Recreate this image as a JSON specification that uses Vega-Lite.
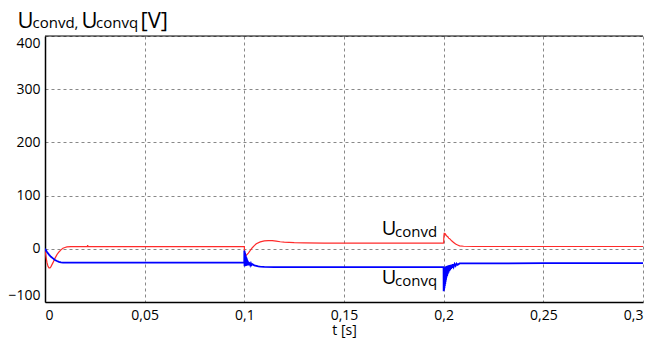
{
  "$schema": "https://vega.github.io/schema/vega-lite/v6.json",
  "width": 598,
  "height": 266,
  "autosize": {"type": "none"},
  "padding": {"left": 45, "top": 36, "right": 11, "bottom": 36},
  "config": {"view": {"stroke": null}, "font": "Open Sans", "background": "white"},
  "datasets": {
    "lines": [
      {"s":"d","t":0,"v":-3},{"s":"d","t":0.0005,"v":-15},{"s":"d","t":0.001,"v":-26},{"s":"d","t":0.0015,"v":-33},{"s":"d","t":0.002,"v":-36},{"s":"d","t":0.0025,"v":-36},{"s":"d","t":0.003,"v":-33.5},{"s":"d","t":0.004,"v":-26},{"s":"d","t":0.005,"v":-18},{"s":"d","t":0.006,"v":-11},{"s":"d","t":0.007,"v":-6},{"s":"d","t":0.008,"v":-2},{"s":"d","t":0.009,"v":1},{"s":"d","t":0.01,"v":2.5},{"s":"d","t":0.011,"v":3.5},{"s":"d","t":0.013,"v":4},{"s":"d","t":0.0212,"v":4},{"s":"d","t":0.0214,"v":7},{"s":"d","t":0.0216,"v":4},{"s":"d","t":0.05,"v":4},{"s":"d","t":0.0999,"v":4},{"s":"d","t":0.1,"v":4},{"s":"d","t":0.1001,"v":-6},{"s":"d","t":0.1003,"v":-13},{"s":"d","t":0.101,"v":-12},{"s":"d","t":0.102,"v":-8},{"s":"d","t":0.103,"v":-3},{"s":"d","t":0.104,"v":2},{"s":"d","t":0.105,"v":6},{"s":"d","t":0.106,"v":9.5},{"s":"d","t":0.108,"v":13},{"s":"d","t":0.11,"v":15},{"s":"d","t":0.112,"v":15.5},{"s":"d","t":0.114,"v":15.2},{"s":"d","t":0.116,"v":14.3},{"s":"d","t":0.118,"v":13.3},{"s":"d","t":0.12,"v":12.5},{"s":"d","t":0.125,"v":11.5},{"s":"d","t":0.13,"v":11},{"s":"d","t":0.14,"v":10.7},{"s":"d","t":0.16,"v":10.7},{"s":"d","t":0.1999,"v":10.7},{"s":"d","t":0.2,"v":11},{"s":"d","t":0.2001,"v":24},{"s":"d","t":0.2003,"v":30},{"s":"d","t":0.2005,"v":26},{"s":"d","t":0.2007,"v":29},{"s":"d","t":0.2009,"v":25},{"s":"d","t":0.201,"v":27},{"s":"d","t":0.2015,"v":24},{"s":"d","t":0.202,"v":23},{"s":"d","t":0.2025,"v":20},{"s":"d","t":0.203,"v":19},{"s":"d","t":0.204,"v":15},{"s":"d","t":0.205,"v":12},{"s":"d","t":0.206,"v":9},{"s":"d","t":0.207,"v":7},{"s":"d","t":0.208,"v":5.5},{"s":"d","t":0.21,"v":4.8},{"s":"d","t":0.215,"v":4.3},{"s":"d","t":0.3,"v":4.3},
      {"s":"q","t":0,"v":0},{"s":"q","t":0.001,"v":-6},{"s":"q","t":0.002,"v":-11},{"s":"q","t":0.003,"v":-15},{"s":"q","t":0.004,"v":-18},{"s":"q","t":0.005,"v":-21},{"s":"q","t":0.006,"v":-23},{"s":"q","t":0.007,"v":-24.5},{"s":"q","t":0.008,"v":-25.5},{"s":"q","t":0.009,"v":-26},{"s":"q","t":0.03,"v":-26},{"s":"q","t":0.06,"v":-26},{"s":"q","t":0.09995,"v":-26},
      {"s":"q","t":0.1,"v":-3},{"s":"q","t":0.1001,"v":-33},{"s":"q","t":0.1002,"v":-5},{"s":"q","t":0.1003,"v":-33},{"s":"q","t":0.1004,"v":-8},{"s":"q","t":0.1005,"v":-32.5},{"s":"q","t":0.1006,"v":-11},{"s":"q","t":0.1007,"v":-32.5},{"s":"q","t":0.1008,"v":-14},{"s":"q","t":0.1009,"v":-32},{"s":"q","t":0.101,"v":-16},{"s":"q","t":0.1011,"v":-32},{"s":"q","t":0.1012,"v":-18},{"s":"q","t":0.1013,"v":-31.5},{"s":"q","t":0.1014,"v":-20},{"s":"q","t":0.1015,"v":-31.5},{"s":"q","t":0.10165,"v":-22},{"s":"q","t":0.1018,"v":-31},{"s":"q","t":0.10195,"v":-24},{"s":"q","t":0.1021,"v":-31},{"s":"q","t":0.1023,"v":-25},{"s":"q","t":0.1025,"v":-31},{"s":"q","t":0.1027,"v":-26},{"s":"q","t":0.103,"v":-30.5},{"s":"q","t":0.1033,"v":-27.5},{"s":"q","t":0.1036,"v":-30.5},{"s":"q","t":0.104,"v":-29},{"s":"q","t":0.105,"v":-31},{"s":"q","t":0.106,"v":-32},{"s":"q","t":0.107,"v":-33},{"s":"q","t":0.108,"v":-33.5},{"s":"q","t":0.11,"v":-34},{"s":"q","t":0.115,"v":-34.5},{"s":"q","t":0.15,"v":-34.5},{"s":"q","t":0.19995,"v":-34.5},
      {"s":"q","t":0.2,"v":-80},{"s":"q","t":0.2001,"v":-38},{"s":"q","t":0.2002,"v":-78},{"s":"q","t":0.2003,"v":-37},{"s":"q","t":0.2004,"v":-74},{"s":"q","t":0.2005,"v":-36},{"s":"q","t":0.2006,"v":-70},{"s":"q","t":0.2007,"v":-35},{"s":"q","t":0.2008,"v":-66},{"s":"q","t":0.2009,"v":-34},{"s":"q","t":0.201,"v":-62},{"s":"q","t":0.2011,"v":-33.5},{"s":"q","t":0.2012,"v":-58},{"s":"q","t":0.2013,"v":-33},{"s":"q","t":0.20145,"v":-54},{"s":"q","t":0.2016,"v":-32.5},{"s":"q","t":0.20175,"v":-51},{"s":"q","t":0.2019,"v":-32},{"s":"q","t":0.20205,"v":-48},{"s":"q","t":0.2022,"v":-31.5},{"s":"q","t":0.2024,"v":-45},{"s":"q","t":0.2026,"v":-31},{"s":"q","t":0.2028,"v":-42},{"s":"q","t":0.203,"v":-30.5},{"s":"q","t":0.20325,"v":-40},{"s":"q","t":0.2035,"v":-30},{"s":"q","t":0.20375,"v":-38},{"s":"q","t":0.204,"v":-29.5},{"s":"q","t":0.2043,"v":-36},{"s":"q","t":0.2046,"v":-29},{"s":"q","t":0.205,"v":-34},{"s":"q","t":0.2055,"v":-28.5},{"s":"q","t":0.206,"v":-32},{"s":"q","t":0.2065,"v":-28},{"s":"q","t":0.207,"v":-30},{"s":"q","t":0.208,"v":-27.5},{"s":"q","t":0.21,"v":-27.5},{"s":"q","t":0.25,"v":-27},{"s":"q","t":0.3,"v":-27}
    ],
    "big": [
      {"t":-0.0138,"v":414.1,"txt":"U"},
      {"t":0.01831,"v":414.1,"txt":"U"},
      {"t":0.04791,"v":414.1,"txt":"[V]"}
    ],
    "small": [
      {"t":-0.00627,"v":414.1,"txt":"convd,"},
      {"t":0.02559,"v":414.1,"txt":"convq"}
    ],
    "lblbig": [
      {"t":0.16891,"v":25.9,"txt":"U"},
      {"t":0.16891,"v":-66.2,"txt":"U"}
    ],
    "lblsmall": [
      {"t":0.17558,"v":22.7,"txt":"convd"},
      {"t":0.17558,"v":-69.0,"txt":"convq"}
    ],
    "top": [{"v":400}]
  },
  "layer": [
    {
      "data": {"name": "lines"},
      "mark": {"type": "line", "clip": true},
      "encoding": {
        "x": {
          "field": "t", "type": "quantitative",
          "scale": {"domain": [0, 0.3], "nice": false, "zero": false},
          "axis": {
            "values": [0, 0.05, 0.1, 0.15, 0.2, 0.25, 0.3],
            "labelExpr": "replace(format(datum.value, '~g'), '.', ',')",
            "labelFlush": true,
            "labelFont": "Open Sans", "labelFontSize": 14, "labelColor": "black", "labelPadding": 6,
            "ticks": false,
            "domainColor": "black", "domainWidth": 1.5,
            "grid": true, "gridDash": [3, 3], "gridColor": "#888", "gridWidth": 1,
            "title": "t [s]", "titleFont": "Open Sans", "titleFontSize": 14, "titleFontWeight": "normal", "titleColor": "black", "titlePadding": 1
          }
        },
        "y": {
          "field": "v", "type": "quantitative",
          "scale": {"domain": [-100, 400], "nice": false, "zero": false},
          "axis": {
            "values": [-100, 0, 100, 200, 300, 400],
            "labelFlush": true,
            "labelFont": "Open Sans", "labelFontSize": 14, "labelColor": "black", "labelPadding": 5,
            "ticks": false,
            "domainColor": "black", "domainWidth": 1.5,
            "grid": true, "gridDash": [3, 3], "gridColor": "#888", "gridWidth": 1,
            "title": null
          }
        },
        "color": {"field": "s", "type": "nominal", "scale": {"domain": ["d", "q"], "range": ["#ff2a2a", "#0000ff"]}, "legend": null},
        "strokeWidth": {"field": "s", "type": "nominal", "scale": {"domain": ["d", "q"], "range": [1.2, 1.8]}, "legend": null}
      }
    },
    {
      "data": {"name": "top"},
      "mark": {"type": "rule", "color": "black", "strokeWidth": 1},
      "encoding": {"y": {"field": "v", "type": "quantitative"}}
    },
    {
      "data": {"name": "big"},
      "mark": {"type": "text", "align": "left", "baseline": "alphabetic", "fontSize": 22, "font": "Open Sans", "color": "black"},
      "encoding": {"x": {"field": "t", "type": "quantitative"}, "y": {"field": "v", "type": "quantitative"}, "text": {"field": "txt"}}
    },
    {
      "data": {"name": "small"},
      "mark": {"type": "text", "align": "left", "baseline": "alphabetic", "fontSize": 15, "font": "Open Sans", "color": "black"},
      "encoding": {"x": {"field": "t", "type": "quantitative"}, "y": {"field": "v", "type": "quantitative"}, "text": {"field": "txt"}}
    },
    {
      "data": {"name": "lblbig"},
      "mark": {"type": "text", "align": "left", "baseline": "alphabetic", "fontSize": 20, "font": "Open Sans", "color": "black"},
      "encoding": {"x": {"field": "t", "type": "quantitative"}, "y": {"field": "v", "type": "quantitative"}, "text": {"field": "txt"}}
    },
    {
      "data": {"name": "lblsmall"},
      "mark": {"type": "text", "align": "left", "baseline": "alphabetic", "fontSize": 15, "font": "Open Sans", "color": "black"},
      "encoding": {"x": {"field": "t", "type": "quantitative"}, "y": {"field": "v", "type": "quantitative"}, "text": {"field": "txt"}}
    }
  ]
}
